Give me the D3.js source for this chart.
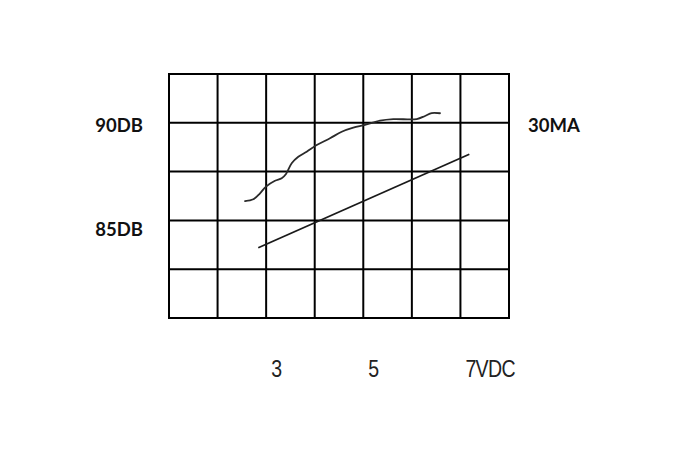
<!DOCTYPE html>
<html>
<head>
<meta charset="utf-8">
<script src="https://cdn.jsdelivr.net/npm/d3@7"></script>
<style>
  html, body { margin: 0; padding: 0; background: #fff; }
  svg { display: block; }
</style>
</head>
<body>
<svg id="chart" width="695" height="454"></svg>
<script>
// ---- data ----
const xTicks = [1, 2, 3, 4, 5, 6, 7, 8];          // volts (grid columns)
const yTicks = [80, 82.5, 85, 87.5, 90, 92.5];    // dB (grid rows)
const xLabels = [{v: 3, t: "3"}, {v: 5, t: "5"}, {v: 7, t: "7VDC"}];
const yLabels = [{v: 90, t: "90DB"}, {v: 85, t: "85DB"}];
const rightLabels = [{v: 90, t: "30MA"}];

// sound level curve (V, dB)
const splV  = [2.565, 2.736, 2.874, 2.997, 3.182, 3.320, 3.409, 3.526, 3.662, 3.835, 4.041, 4.315, 4.556, 4.794, 5.035, 5.344, 5.618, 6.100, 6.271, 6.408, 6.580];
const splDb = [85.99, 86.08, 86.39, 86.73, 87.03, 87.16, 87.38, 87.93, 88.26, 88.52, 88.86, 89.21, 89.54, 89.75, 89.89, 90.11, 90.19, 90.19, 90.35, 90.50, 90.49];
// current line (V, dB-scale position)
const curV  = [2.838, 7.183];
const curDb = [83.60, 88.39];

// ---- drawing ----
const svg = d3.select("#chart");
const x = d3.scaleLinear().domain([1, 8]).range([169, 509]);
const y = d3.scaleLinear().domain([80, 92.5]).range([318, 74]);

const grid = svg.append("g").attr("stroke", "#000").attr("stroke-width", 2);
grid.selectAll("line.v").data(xTicks).join("line")
  .attr("class", "v")
  .attr("x1", d => x(d)).attr("x2", d => x(d))
  .attr("y1", y(92.5) - 1).attr("y2", y(80) + 1);
grid.selectAll("line.h").data(yTicks).join("line")
  .attr("class", "h")
  .attr("x1", x(1) - 1).attr("x2", x(8) + 1)
  .attr("y1", d => y(d)).attr("y2", d => y(d));

const line = d3.line().x(d => x(d[0])).y(d => y(d[1]));

svg.append("path")
  .datum(splV.map((v, i) => [v, splDb[i]]))
  .attr("fill", "none").attr("stroke", "#2a2a2a").attr("stroke-width", 1.8)
  .attr("stroke-linecap", "round")
  .attr("d", line.curve(d3.curveCatmullRom.alpha(0.5)));

svg.append("path")
  .datum(curV.map((v, i) => [v, curDb[i]]))
  .attr("fill", "none").attr("stroke", "#1a1a1a").attr("stroke-width", 1.8)
  .attr("d", d3.line().x(d => x(d[0])).y(d => y(d[1])));

svg.selectAll("text.yl").data(yLabels).join("text")
  .attr("class", "yl")
  .attr("x", 143).attr("y", (d, i) => y(d.v) + (i === 0 ? 9.5 : 16))
  .attr("text-anchor", "end")
  .attr("font-family", "Lato, 'Open Sans', sans-serif")
  .attr("font-weight", "bold").attr("font-size", 18.5).attr("fill", "#111")
  .text(d => d.t);

svg.selectAll("text.rl").data(rightLabels).join("text")
  .attr("class", "rl")
  .attr("x", x(8) + 19).attr("y", d => y(d.v) + 9.5)
  .attr("font-family", "Lato, 'Open Sans', sans-serif")
  .attr("font-weight", "bold").attr("font-size", 18.5).attr("fill", "#111")
  .text(d => d.t);

svg.selectAll("text.xl").data(xLabels).join("text")
  .attr("class", "xl")
  .attr("transform", d => `translate(${x(d.v) + 5},376.5) scale(0.85,1)`)
  .attr("font-family", "'Liberation Sans', Arial, sans-serif")
  .attr("font-size", 23).attr("fill", "#222")
  .attr("letter-spacing", -0.8)
  .text(d => d.t);
</script>
</body>
</html>
